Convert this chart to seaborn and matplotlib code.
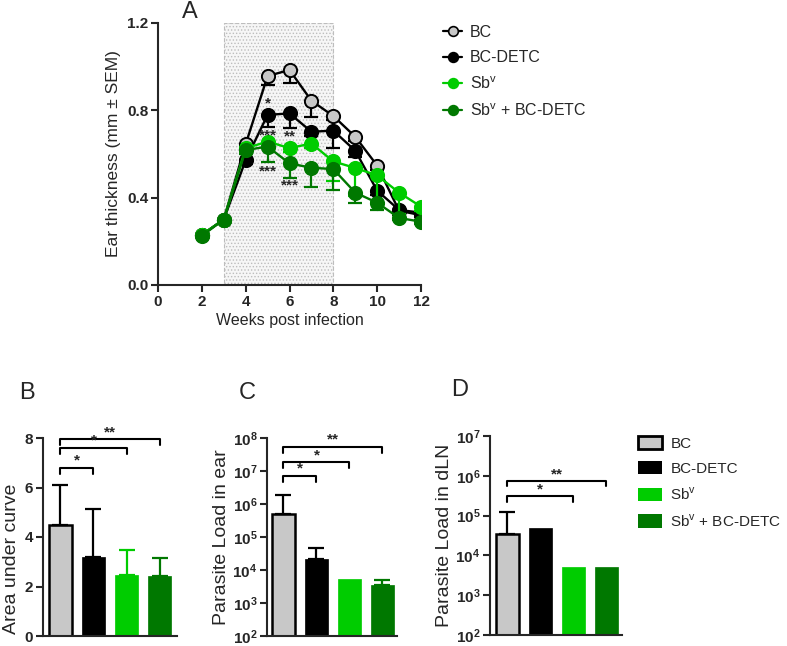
import numpy as np
import pandas as pd
import matplotlib
matplotlib.use("Agg")
import matplotlib.pyplot as plt
from matplotlib.lines import Line2D
from matplotlib.patches import Patch, Rectangle
import seaborn as sns

sns.set_style("ticks")
plt.rcParams['font.family'] = ['Liberation Sans', 'DejaVu Sans']
plt.rcParams['mathtext.fontset'] = 'custom'
plt.rcParams['mathtext.rm'] = 'Liberation Sans'
plt.rcParams['mathtext.bf'] = 'Liberation Sans:bold'
plt.rcParams['hatch.linewidth'] = 0.6

# === data ===
groups = ['BC', 'BC-DETC', 'Sb$^{\\mathregular{v}}$', 'Sb$^{\\mathregular{v}}$ + BC-DETC']
weeks = [2, 3, 4, 5, 6, 7, 8, 9, 10, 11, 12]

bc = [0.23, 0.30, 0.645, 0.957, 0.985, 0.844, 0.774, 0.679, 0.547, 0.34, 0.32]
bc_err = [0.005, 0.005, 0.02, 0.04, 0.06, 0.076, 0.02, 0.02, 0.02, 0.02, 0.02]
bcdetc = [0.23, 0.30, 0.572, 0.779, 0.786, 0.702, 0.707, 0.615, 0.432, 0.344, 0.331]
bcdetc_err = [0.005, 0.005, 0.02, 0.054, 0.066, 0.02, 0.08, 0.03, 0.02, 0.02, 0.02]
sb = [0.23, 0.30, 0.626, 0.657, 0.627, 0.648, 0.566, 0.536, 0.502, 0.423, 0.359]
sb_err = [0.005, 0.005, 0.02, 0.02, 0.02, 0.02, 0.088, 0.13, 0.12, 0.10, 0.02]
sbbc = [0.225, 0.30, 0.618, 0.634, 0.557, 0.537, 0.531, 0.423, 0.377, 0.307, 0.29]
sbbc_err = [0.005, 0.005, 0.02, 0.072, 0.067, 0.087, 0.096, 0.049, 0.033, 0.01, 0.01]

# stars in panel A (week, y, text)
starsA_x = [5, 5, 6, 5, 6]
starsA_y = [0.83, 0.687, 0.68, 0.519, 0.458]
starsA_txt = ['*', '***', '**', '***', '***']

auc = [4.47, 3.2, 2.45, 2.42]
auc_err = [1.63, 1.92, 1.02, 0.75]
ear = [5e5, 2.1e4, 5.2e3, 3.5e3]
ear_err = [1.4e6, 2.4e4, 0, 1.5e3]
dln = [3.4e4, 5e4, 5.1e3, 5.1e3]
dln_err = [8.6e4, 0, 0, 0]

# brackets: (from bar, to bar, height, label)
brB = [(0, 1, 6.8, '*'), (0, 2, 7.6, '*'), (0, 3, 7.96, '**')]
brC = [(0, 1, 10**6.86, '*'), (0, 2, 10**7.27, '*'), (0, 3, 10**7.74, '**')]
brD = [(0, 2, 10**5.48, '*'), (0, 3, 10**5.87, '**')]

grey = '#c8c8c8'
lgreen = '#00cc00'
dgreen = '#007800'
colors = [grey, 'black', lgreen, dgreen]
line_cols = ['black', 'black', lgreen, dgreen]
err_cols = ['black', 'black', lgreen, dgreen]

W, H = 787, 646
fig = plt.figure(figsize=(W / 100, H / 100), dpi=100)


def px_axes(l, t, r, b):
    return fig.add_axes([l / W, 1 - b / H, (r - l) / W, (b - t) / H])


def style_axes(ax):
    sns.despine(ax=ax)
    for s in ['left', 'bottom']:
        ax.spines[s].set_linewidth(1.5)
    ax.tick_params(width=1.5, length=5, labelsize=11, pad=2)
    for lab in ax.get_yticklabels() + ax.get_xticklabels():
        lab.set_fontweight('bold')


# === Panel A ===
axA = px_axes(158, 23, 421, 285)
axA.add_patch(Rectangle((3, 0), 5, 1.2, facecolor='#f6f6f6', edgecolor='#bdbdbd',
                        hatch='.....', linestyle='--', linewidth=0.8, zorder=0))

series = [bc, bcdetc, sb, sbbc]
errs = [bc_err, bcdetc_err, sb_err, sbbc_err]
for i, (vals, e) in enumerate(zip(series, errs)):
    axA.errorbar(weeks, vals, yerr=[e, [0] * len(e)], fmt='none', ecolor=err_cols[i],
                 elinewidth=1.6, capsize=5, capthick=1.6, zorder=2 + i)
    sns.lineplot(x=weeks, y=vals, color=line_cols[i], marker='o', markersize=9.5,
                 markerfacecolor=colors[i], markeredgecolor=line_cols[i],
                 markeredgewidth=1.4, linewidth=1.7, ax=axA, zorder=3 + i)

for x, y, t in zip(starsA_x, starsA_y, starsA_txt):
    axA.text(x, y, t, ha='center', va='center', fontsize=11, fontweight='bold', zorder=10)

axA.set_xlim(0, 12)
axA.set_ylim(0, 1.2)
axA.set_xticks(range(0, 13, 2))
axA.set_yticks([0, 0.4, 0.8, 1.2])
axA.set_yticklabels(['0.0', '0.4', '0.8', '1.2'])
axA.set_xlabel('Weeks post infection', fontsize=11.5, labelpad=3)
axA.set_ylabel('Ear thickness (mm ± SEM)', fontsize=12.5)
style_axes(axA)

handlesA = [Line2D([0], [0], color=line_cols[i], marker='o', markersize=7,
                   markerfacecolor=colors[i], markeredgecolor=line_cols[i],
                   markeredgewidth=1.2, linewidth=1.6) for i in range(4)]
fig.legend(handlesA, groups, loc='upper left', bbox_to_anchor=(435 / W, 1 - 17 / H),
           frameon=False, fontsize=11.5, handlelength=1.2, handletextpad=0.5,
           labelspacing=0.64, borderpad=0)


# === bar panels ===
def bar_panel(ax, vals, err, brackets, tick_h):
    sns.barplot(x=list(range(4)), y=vals, hue=list(range(4)), palette=colors,
                width=0.7, saturation=1, legend=False, errorbar=None, ax=ax)
    for i, p in enumerate(ax.patches):
        p.set_edgecolor('black' if i == 0 else colors[i])
        p.set_linewidth(1.8 if i == 0 else 0.5)
    for i in range(4):
        if err[i] > 0:
            ax.errorbar(i, vals[i], yerr=[[0], [err[i]]], fmt='none', ecolor=err_cols[i],
                        elinewidth=1.6, capsize=6, capthick=1.6, zorder=1)
    for a, b, h, t in brackets:
        lo = tick_h(h)
        ax.plot([a, a, b, b], [lo, h, h, lo], color='black', lw=1.5, clip_on=False)
        ax.text((a + b) / 2, h, t, ha='center', va='bottom', fontsize=11,
                fontweight='bold')
    ax.set_xticks([])
    ax.set_xlabel('')


axB = px_axes(43, 438, 177, 636)
bar_panel(axB, auc, auc_err, brB, lambda h: h - 0.25)
axB.set_xlim(-0.53, 3.53)
axB.set_ylim(0, 8)
axB.set_yticks([0, 2, 4, 6, 8])
axB.set_ylabel('Area under curve', fontsize=14)
style_axes(axB)
axB.yaxis.set_label_coords(-0.17, 0.39)

axC = px_axes(267, 438, 397, 636)
axC.set_yscale('log')
bar_panel(axC, ear, ear_err, brC, lambda h: h / 10**0.18)
axC.set_xlim(-0.5, 3.44)
axC.set_ylim(1e2, 1e8)
axC.set_yticks([10.0 ** k for k in range(2, 9)])
axC.set_yticklabels(['$\\mathbf{10^{%d}}$' % k for k in range(2, 9)])
axC.minorticks_off()
axC.set_ylabel('Parasite Load in ear', fontsize=14, labelpad=2)
style_axes(axC)

axD = px_axes(490, 436, 622, 635)
axD.set_yscale('log')
bar_panel(axD, dln, dln_err, brD, lambda h: h / 10**0.13)
axD.set_xlim(-0.52, 3.48)
axD.set_ylim(1e2, 1e7)
axD.set_yticks([10.0 ** k for k in range(2, 8)])
axD.set_yticklabels(['$\\mathbf{10^{%d}}$' % k for k in range(2, 8)])
axD.minorticks_off()
axD.set_ylabel('Parasite Load in dLN', fontsize=14, labelpad=2)
style_axes(axD)

handlesD = [Patch(facecolor=colors[i], edgecolor='black' if i == 0 else colors[i],
                  linewidth=2 if i == 0 else 0) for i in range(4)]
fig.legend(handlesD, groups, loc='upper left', bbox_to_anchor=(630 / W, 1 - 428 / H),
           frameon=False, fontsize=11, handlelength=1.6, handleheight=1.0,
           handletextpad=0.55, labelspacing=0.66, borderpad=0)

# panel letters
for x, y, t in [(190, 12, 'A'), (27, 393, 'B'), (247, 393, 'C'), (460, 390, 'D')]:
    fig.text(x / W, 1 - y / H, t, fontsize=17, ha='center', va='center')

fig.savefig('out.png', dpi=100)
